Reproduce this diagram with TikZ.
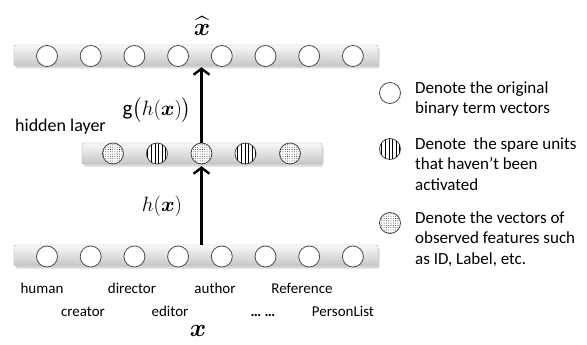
\documentclass[tikz,border=0pt]{standalone}
\usepackage{amsmath,bm}
\usepackage{fontspec}
\setmainfont{Carlito}
\usetikzlibrary{arrows.meta,patterns,patterns.meta,shadows}
\begin{document}
\begin{tikzpicture}[x=1pt,y=-1pt,
  bar/.style={rectangle, rounded corners=2pt, top color=gray!5, bottom color=gray!45,
    draw=gray!60, line width=0.4pt, minimum height=21pt, inner sep=0pt,
    drop shadow={shadow xshift=1.5pt, shadow yshift=-2.5pt, opacity=0.3, fill=gray}},
  unit/.style={circle, draw=black!70, line width=0.8pt, fill=white, minimum size=21pt, inner sep=0pt},
  vunit/.style={unit, postaction={pattern={Lines[angle=90,distance=3.6pt,line width=0.6pt]}}},
  dunit/.style={unit, postaction={pattern={Dots[distance=2.3pt,radius=0.42pt]}}},
  lbl/.style={font=\fontsize{15}{18}\selectfont, inner sep=0pt, anchor=base},
  legtext/.style={font=\fontsize{17}{20.5}\selectfont, align=left, anchor=north west, inner sep=0pt},
  arr/.style={line width=2.6pt, -{Straight Barb[length=6pt,width=16pt,line width=2.4pt]}},
]
\useasboundingbox (0,0) rectangle (587,345);

% bars
\node[bar, minimum width=364pt] (tbar) at (196,55.5) {};
\node[bar, minimum width=240pt] (hbar) at (202,153.5) {};
\node[bar, minimum width=364pt] (bbar) at (196,255.5) {};

% top and bottom units
\foreach \i in {1,...,8} {
  \node[unit] (t\i) at ({47+43.7*(\i-1)},56) {};
  \node[unit] (b\i) at ({47+43.7*(\i-1)},256.5) {};
}
% hidden units
\node[dunit] (h1) at (113,153.5) {};
\node[vunit] (h2) at (157,153.5) {};
\node[dunit] (h3) at (201.5,153.5) {};
\node[vunit] (h4) at (245.5,153.5) {};
\node[dunit] (h5) at (290,153.5) {};

% arrows
\draw[arr] (bbar.north -| h3) -- ([yshift=-2pt]hbar.south -| h3);
\draw[arr] (h3.north) -- ([yshift=-1pt]tbar.south -| h3);

% math labels
\node (xhat) at (202,26) {\fontsize{26}{28}\selectfont$\widehat{\bm{x}}$};
\node (g) at (157,110) {\fontsize{21}{24}\selectfont$\mathrm{g}\bigl(h(\bm{x})\bigr)$};
\node (hx) at (162,206) {\fontsize{22}{24}\selectfont$h(\bm{x})$};
\node[anchor=base] (xin) at (198,336.5) {\fontsize{35}{38}\selectfont$\bm{x}$};

\node[anchor=west, inner sep=0pt, font=\fontsize{18}{20}\selectfont] (hl) at (15,127) {hidden layer};

% input labels
\node[lbl] (l1) at (42,293) {human};
\node[lbl] (l2) at (132,293) {director};
\node[lbl] (l3) at (215,293) {author};
\node[lbl] (l4) at (302,293) {Reference};
\node[lbl] (l5) at (83,316) {creator};
\node[lbl] (l6) at (170,316) {editor};
\node[lbl] (l7) at (263,316) {\textbf{… …}};
\node[lbl] (l8) at (343,316) {PersonList};

% legend
\node[unit] (k1) at (390,93) {};
\node[vunit] (k2) at (390,149) {};
\node[dunit] (k3) at (390,223) {};
\node[legtext] (d1) at (415,81) {Denote the original\\binary term vectors};
\node[legtext] (d2) at (415,137) {Denote\ \ the spare units\\that haven’t been\\activated};
\node[legtext] (d3) at (415,211) {Denote the vectors of\\observed features such\\as ID, Label, etc.};
\end{tikzpicture}
\end{document}
